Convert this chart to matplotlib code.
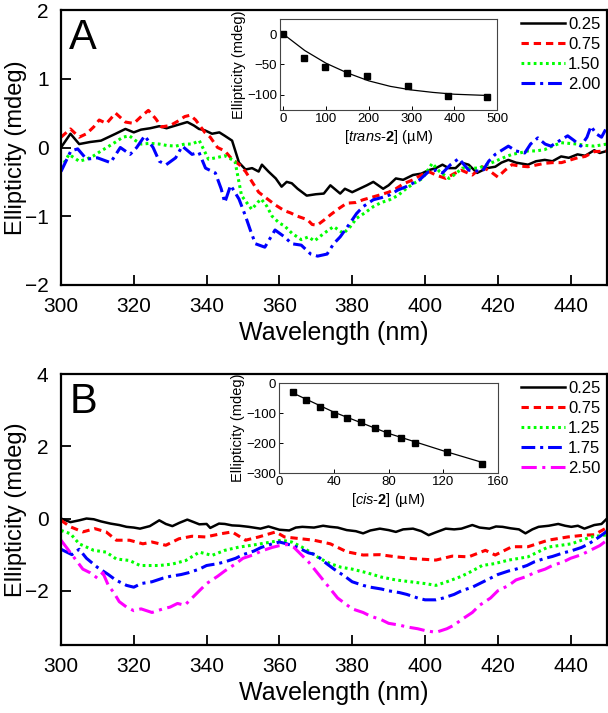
import numpy as np
import matplotlib.pyplot as plt

plt.rcParams['font.family'] = ['Liberation Sans', 'DejaVu Sans']
plt.rcParams['mathtext.fontset'] = 'custom'
plt.rcParams['mathtext.rm'] = 'Liberation Sans'
plt.rcParams['mathtext.it'] = 'Liberation Sans:italic'
plt.rcParams['mathtext.bf'] = 'Liberation Sans:bold'

# ---- panel A spectra (wavelength nm, ellipticity mdeg) ----
a_025 = [(300, 0), (302.6, 0.2), (305, 0.05), (308, 0.08), (311, 0.1), (313, 0.15), (315, 0.2),
         (317.7, 0.27), (320, 0.22), (322, 0.26), (324.5, 0.28), (327, 0.31), (329, 0.28), (331.5, 0.32),
         (334.7, 0.37), (336.5, 0.32), (337.9, 0.27), (339.5, 0.25), (341.5, 0.2), (343.5, 0.22),
         (345, 0.17), (347, 0.1), (348.9, -0.22), (350.7, -0.32), (352.5, -0.3), (354.3, -0.35),
         (355.2, -0.25), (357, -0.35), (359, -0.45), (360.6, -0.57), (362, -0.5), (363.4, -0.52),
         (365, -0.6), (367.5, -0.7), (370, -0.68), (372.2, -0.67), (374, -0.55), (376.7, -0.67),
         (378, -0.6), (380, -0.65), (382, -0.6), (384, -0.55), (385.8, -0.5), (388.5, -0.6),
         (390, -0.55), (392, -0.45), (394, -0.47), (396.7, -0.4), (399, -0.38), (401, -0.33),
         (403, -0.3), (404.8, -0.25), (406.5, -0.3), (408.4, -0.3), (410, -0.22), (412, -0.25),
         (414.3, -0.37), (417, -0.3), (419.3, -0.28), (421, -0.22), (422.9, -0.18), (425, -0.22),
         (428.3, -0.25), (430.5, -0.2), (432.9, -0.18), (435, -0.2), (437.4, -0.13), (439.5, -0.15),
         (441.9, -0.1), (444, -0.12), (446.5, -0.04), (448, -0.08), (450, -0.05)]
a_075 = [(300, 0.15), (302.6, 0.27), (305, 0.15), (307, 0.2), (309, 0.3), (310.5, 0.4), (312.5, 0.35),
         (315, 0.5), (317.7, 0.37), (320, 0.35), (322, 0.45), (324, 0.54), (326, 0.42), (327.6, 0.3),
         (330, 0.32), (332, 0.38), (334, 0.45), (335.5, 0.47), (337, 0.4), (339.5, 0.22), (341, 0.15),
         (343, 0.0), (345, -0.05), (347, -0.17), (349, -0.25), (350.7, -0.35), (352.5, -0.5),
         (354.3, -0.65), (356, -0.72), (359, -0.84), (361.4, -0.92), (363, -0.95), (365, -1.0),
         (367.7, -1.05), (369, -1.12), (370.4, -1.13), (372.4, -1.05), (374, -0.98), (376, -0.9),
         (378.5, -0.81), (381, -0.8), (383, -0.76), (385, -0.73), (387.6, -0.69), (390, -0.65),
         (392, -0.6), (394, -0.53), (396.7, -0.47), (399, -0.4), (401, -0.35), (403, -0.4),
         (405.7, -0.45), (408, -0.38), (410, -0.33), (413, -0.4), (415.7, -0.28), (418, -0.35),
         (420, -0.43), (422, -0.33), (423.9, -0.25), (426, -0.27), (428.3, -0.28), (431, -0.25),
         (432.9, -0.23), (435, -0.22), (437.5, -0.22), (440, -0.18), (441.9, -0.15), (444, -0.13),
         (446.5, -0.06), (450, -0.05)]
a_150 = [(300, -0.3), (302.2, -0.1), (305, -0.2), (307, -0.17), (309, -0.12), (311, -0.05), (312.6, 0),
         (315, 0.08), (317, 0.15), (318.8, 0.17), (320.5, 0.1), (322, 0.05), (324.5, 0.06), (327, 0.05),
         (329, 0.03), (331.5, 0.02), (334, 0.05), (336, 0.05), (338, 0.1), (340.5, -0.17), (342.5, -0.15),
         (345, -0.12), (347.8, -0.2), (349.6, -0.7), (351, -0.8), (352.4, -0.9), (354, -0.8),
         (355, -0.75), (356.5, -0.85), (358, -1.0), (360, -1.1), (361.4, -1.14), (363.5, -1.25),
         (366, -1.34), (368, -1.3), (369.6, -1.36), (372.2, -1.25), (374.9, -1.15), (377.6, -1.25),
         (379.5, -1.15), (381.2, -1.03), (383.5, -0.95), (385.8, -0.86), (388, -0.8), (390.3, -0.76),
         (392.5, -0.7), (394.8, -0.6), (397, -0.52), (399.3, -0.45), (402, -0.23), (404, -0.35),
         (406.6, -0.45), (408.5, -0.38), (410.2, -0.3), (412.5, -0.3), (414.8, -0.3), (417, -0.25),
         (419.3, -0.2), (421.5, -0.15), (423.9, -0.1), (426, -0.08), (428.3, -0.05), (430.5, -0.05),
         (432.9, -0.03), (435, 0.02), (437.4, 0.07), (439.5, 0.06), (441.9, 0.05), (444, 0.03),
         (446.5, 0.02), (450, 0.05)]
a_200 = [(300, -0.35), (302.7, -0.05), (304.6, -0.02), (307, -0.17), (310, -0.15), (313.6, -0.22),
         (316.3, 0), (319, -0.1), (320.8, 0), (323, 0.17), (325.3, 0), (327, -0.2), (328.9, -0.25),
         (331.5, -0.15), (333.3, 0.02), (336, -0.1), (337.9, -0.07), (339.7, -0.3), (342.4, -0.37),
         (344, -0.6), (345, -0.8), (346.6, -0.55), (348.9, -0.75), (350.7, -1.0), (352, -1.2),
         (353.4, -1.4), (356, -1.45), (358.8, -1.2), (361.4, -1.3), (363.4, -1.4), (366, -1.42),
         (368.6, -1.55), (370.5, -1.58), (373.1, -1.55), (374.9, -1.4), (376.7, -1.3), (379.4, -1.1),
         (381.2, -0.96), (383, -0.86), (385.8, -0.76), (388, -0.73), (390.3, -0.69), (392.5, -0.62),
         (394.8, -0.57), (398.5, -0.47), (401, -0.35), (403, -0.33), (404.8, -0.37), (407, -0.25),
         (409.3, -0.16), (412, -0.33), (415.7, -0.35), (417.5, -0.2), (419.3, -0.1), (422.9, 0.02),
         (425, -0.05), (427.4, -0.08), (429, 0.05), (431, 0.14), (433, 0.05), (434.6, 0.02),
         (437, 0.1), (439.2, 0.17), (441, 0.1), (442.8, 0.02), (444.5, 0.15), (445.6, 0.31),
         (447, 0.2), (448.5, 0.15), (450, 0.3)]

# ---- panel B spectra ----
b_025 = [(300, 0), (302.6, -0.1), (305, -0.05), (307, 0), (309, -0.02), (311, -0.08), (313.6, -0.14),
         (316, -0.18), (318, -0.23), (320, -0.25), (321.7, -0.28), (324.4, -0.21), (327, -0.05),
         (328.8, -0.15), (330.6, -0.21), (332.5, -0.12), (334.7, -0.03), (336.5, -0.1), (338, -0.16),
         (340, -0.15), (341, -0.26), (343.4, -0.14), (345, -0.15), (347, -0.19), (349, -0.2),
         (351.6, -0.23), (354.8, -0.28), (357, -0.22), (360, -0.31), (362.7, -0.33), (364.5, -0.25),
         (366.3, -0.23), (369.5, -0.25), (372, -0.2), (374, -0.23), (376, -0.25), (378.5, -0.32),
         (381, -0.35), (383, -0.41), (385, -0.33), (387.6, -0.28), (390, -0.32), (392, -0.37),
         (394, -0.3), (396.7, -0.28), (399, -0.35), (401, -0.46), (403, -0.38), (405.7, -0.28),
         (408, -0.3), (410, -0.28), (413, -0.18), (415, -0.25), (417.7, -0.28), (419.5, -0.22),
         (421.3, -0.23), (423.5, -0.27), (425.8, -0.3), (427.6, -0.41), (429.5, -0.3), (431.2, -0.23),
         (434, -0.2), (436.6, -0.15), (438.5, -0.2), (440.2, -0.23), (442, -0.2), (443.8, -0.28),
         (446.5, -0.18), (448.5, -0.15), (450, 0)]
b_075 = [(300, -0.05), (302.6, -0.23), (306, -0.37), (309.3, -0.28), (312.4, -0.37), (315.2, -0.6),
         (318.8, -0.6), (322.5, -0.7), (325, -0.65), (328.8, -0.74), (332.4, -0.56), (336, -0.49),
         (339.7, -0.51), (344, -0.42), (347, -0.37), (350.7, -0.6), (354.3, -0.51), (359, -0.37),
         (361.4, -0.51), (365, -0.55), (369.5, -0.6), (374, -0.7), (378.5, -0.92), (383, -1.01),
         (387.6, -1.0), (392, -1.06), (396.7, -1.11), (400, -1.13), (403, -1.15), (407.5, -1.04),
         (412, -1.06), (416.6, -0.88), (419.3, -1.01), (423.9, -0.78), (428.3, -0.78), (433.8, -0.6),
         (439.2, -0.51), (443.8, -0.46), (446.5, -0.45), (450, -0.25)]
b_125 = [(300, -0.33), (302.6, -0.42), (305, -0.7), (309, -0.88), (312.4, -0.93), (315.2, -1.12),
         (318.8, -1.16), (321.7, -1.3), (327, -1.3), (330.6, -1.26), (334.3, -1.16), (338, -0.93),
         (341.5, -1.02), (345, -0.88), (348.9, -0.79), (352.4, -0.74), (356, -0.68), (360.6, -0.6),
         (363.4, -0.65), (366, -0.78), (368, -0.9), (371, -1.1), (374, -1.25), (377, -1.35),
         (380, -1.4), (384, -1.5), (388, -1.62), (392, -1.7), (396, -1.75), (400, -1.8), (403, -1.85),
         (406, -1.75), (410, -1.6), (413, -1.45), (415.7, -1.3), (419, -1.25), (423, -1.15),
         (428.3, -1.06), (433.8, -0.79), (440.2, -0.7), (445.6, -0.51), (450, -0.45)]
b_175 = [(300, -0.85), (303, -1.0), (305, -0.85), (307, -1.1), (310, -1.35), (313, -1.55), (315, -1.7),
         (318, -1.85), (320, -1.9), (322, -1.8), (325, -1.75), (328, -1.65), (330, -1.6), (333, -1.55),
         (335, -1.5), (338, -1.4), (340, -1.3), (343, -1.25), (345, -1.2), (348, -1.1), (350, -1.0),
         (353, -0.9), (355, -0.8), (358, -0.7), (360, -0.65), (362, -0.7), (365, -0.8), (368, -0.95),
         (370, -1.0), (373, -1.25), (375, -1.4), (378, -1.6), (380, -1.75), (383, -1.85), (385, -1.9),
         (388, -1.95), (390, -2.0), (393, -2.05), (395, -2.1), (398, -2.2), (400, -2.25), (403, -2.25),
         (405, -2.2), (408, -2.1), (410, -2.0), (413, -1.9), (415, -1.8), (418, -1.65), (420, -1.55),
         (423, -1.45), (425, -1.4), (428, -1.3), (430, -1.2), (433, -1.1), (435, -1.05), (438, -0.95),
         (440, -0.9), (443, -0.8), (445, -0.7), (448, -0.5), (450, -0.35)]
b_250 = [(300, -0.6), (303, -1.0), (306, -1.4), (308, -1.5), (310, -1.65), (311.5, -1.5), (313, -1.85),
         (314.5, -2.05), (316, -2.3), (318, -2.45), (320, -2.55), (322, -2.5), (325, -2.6), (328, -2.5),
         (330, -2.45), (332, -2.35), (334, -2.4), (336, -2.2), (338, -2.0), (340, -1.8), (343, -1.6),
         (345, -1.45), (348, -1.25), (350, -1.1), (353, -1.0), (355, -0.9), (358, -0.8), (360, -0.75),
         (362, -0.72), (364, -0.8), (366, -1.0), (368, -1.2), (370, -1.45), (372, -1.7), (374, -1.95),
         (376, -2.2), (378, -2.35), (380, -2.5), (383, -2.6), (385, -2.7), (388, -2.8), (390, -2.9),
         (393, -2.95), (395, -3.0), (398, -3.05), (400, -3.1), (403, -3.15), (406, -3.05), (408, -2.95),
         (410, -2.8), (413, -2.6), (415, -2.4), (418, -2.2), (420, -2.0), (423, -1.85), (425, -1.7),
         (428, -1.6), (430, -1.5), (433, -1.4), (435, -1.3), (438, -1.2), (440, -1.1), (443, -1.0),
         (445, -0.9), (448, -0.75), (450, -0.6)]

# ---- inset data ----
trans_conc = [0, 48, 98, 148, 196, 292, 385, 476]
trans_ell = [0, -39, -54, -64, -69, -86, -102, -103]
trans_fit_x = [0, 50, 100, 150, 200, 250, 300, 350, 400, 476]
trans_fit_y = [0, -27, -48, -64, -77, -86, -92, -96, -99, -101]
cis_conc = [10, 20, 30, 40, 50, 60, 70, 79, 89, 99, 123, 148]
cis_ell = [-31, -57, -79, -104, -116, -131, -150, -165, -183, -200, -229, -270]
cis_fit_x = [10, 40, 80, 120, 148]
cis_fit_y = [-33, -97, -168, -226, -264]

labels_a = ['0.25', '0.75', '1.50', '2.00']
labels_b = ['0.25', '0.75', '1.25', '1.75', '2.50']

solid = '-'
dashed = (0, (2.4, 1.6))
dotted = (0, (0.9, 1.1))
dashdot = (0, (4.5, 1.6, 1.0, 1.6))
dashdot2 = (0, (5.0, 1.8, 1.0, 1.8))

styles_a = [('black', solid, 1.8), ('#ff0000', dashed, 2.2), ('#00ff00', dotted, 2.2),
            ('#0000ff', dashdot, 2.2)]
styles_b = [('black', solid, 1.8), ('#ff0000', dashed, 2.2), ('#00ff00', dotted, 2.2),
            ('#0000ff', dashdot, 2.2), ('#ff00ff', dashdot2, 2.2)]

W, H = 608, 713
fig = plt.figure(figsize=(W / 100, H / 100), dpi=100)


def px_axes(l, t, r, b):
    return fig.add_axes([l / W, 1 - b / H, (r - l) / W, (b - t) / H])


def style_main(ax, ylim, yticks):
    ax.set_xlim(300, 450)
    ax.set_ylim(*ylim)
    ax.set_xticks(range(300, 441, 20))
    ax.set_yticks(yticks)
    ax.tick_params(direction='in', length=7, width=1.3, labelsize=15, top=False, right=False, pad=9)
    for s in ax.spines.values():
        s.set_linewidth(1.6)
    ax.set_xlabel('Wavelength (nm)', fontsize=18, labelpad=3)
    ax.set_ylabel('Ellipticity (mdeg)', fontsize=17)
    ax.yaxis.set_label_coords(-0.063, 0.5)


def style_inset(ax):
    ax.tick_params(direction='in', length=3, width=0.7, labelsize=9.5, pad=2)
    for s in ax.spines.values():
        s.set_linewidth(0.8)
        s.set_color('#444444')


# Panel A
axA = px_axes(61, 10, 607, 285)
for data, (c, ls, lw), lab in zip([a_025, a_075, a_150, a_200], styles_a, labels_a):
    wl, v = np.array(data).T
    axA.plot(wl, v, color=c, linestyle=ls, lw=lw, label=lab)
style_main(axA, (-2, 2), [-2, -1, 0, 1, 2])
axA.text(0.015, 0.97, 'A', transform=axA.transAxes, fontsize=30, va='top', ha='left')
axA.legend(loc='upper right', frameon=False, fontsize=12, handlelength=2.6, handletextpad=0.2,
           labelspacing=0.3, borderaxespad=0.1, borderpad=0.3)

insA = px_axes(280, 19, 497, 110)
insA.plot(trans_fit_x, trans_fit_y, color='black', lw=0.9)
insA.plot(trans_conc, trans_ell, 's', color='black', ms=5)
insA.set_xlim(-8, 500)
insA.set_ylim(-125, 25)
insA.set_xticks([0, 100, 200, 300, 400, 500])
insA.set_yticks([0, -50, -100])
style_inset(insA)
insA.set_xlabel('[$\\mathit{trans}$-$\\mathbf{2}$] (µM)', fontsize=10.5, labelpad=2)
insA.set_ylabel('Ellipticity (mdeg)', fontsize=10.5, labelpad=1)

# Panel B
axB = px_axes(61, 374, 607, 645)
for data, (c, ls, lw), lab in zip([b_025, b_075, b_125, b_175, b_250], styles_b, labels_b):
    wl, v = np.array(data).T
    axB.plot(wl, v, color=c, linestyle=ls, lw=lw, label=lab)
style_main(axB, (-3.5, 4), [-2, 0, 2, 4])
axB.text(0.015, 0.97, 'B', transform=axB.transAxes, fontsize=30, va='top', ha='left')
axB.legend(loc='upper right', frameon=False, fontsize=12, handlelength=2.6, handletextpad=0.2,
           labelspacing=0.3, borderaxespad=0.1, borderpad=0.3)

insB = px_axes(279, 383, 498, 473)
insB.plot(cis_fit_x, cis_fit_y, color='black', lw=0.9)
insB.plot(cis_conc, cis_ell, 's', color='black', ms=5)
insB.set_xlim(0, 160)
insB.set_ylim(-300, 0)
insB.set_xticks([0, 40, 80, 120, 160])
insB.set_yticks([0, -100, -200, -300])
style_inset(insB)
insB.set_xlabel('[$\\mathit{cis}$-$\\mathbf{2}$] (µM)', fontsize=10.5, labelpad=2)
insB.set_ylabel('Ellipticity (mdeg)', fontsize=10.5, labelpad=1)

fig.savefig('out.png', dpi=100)
